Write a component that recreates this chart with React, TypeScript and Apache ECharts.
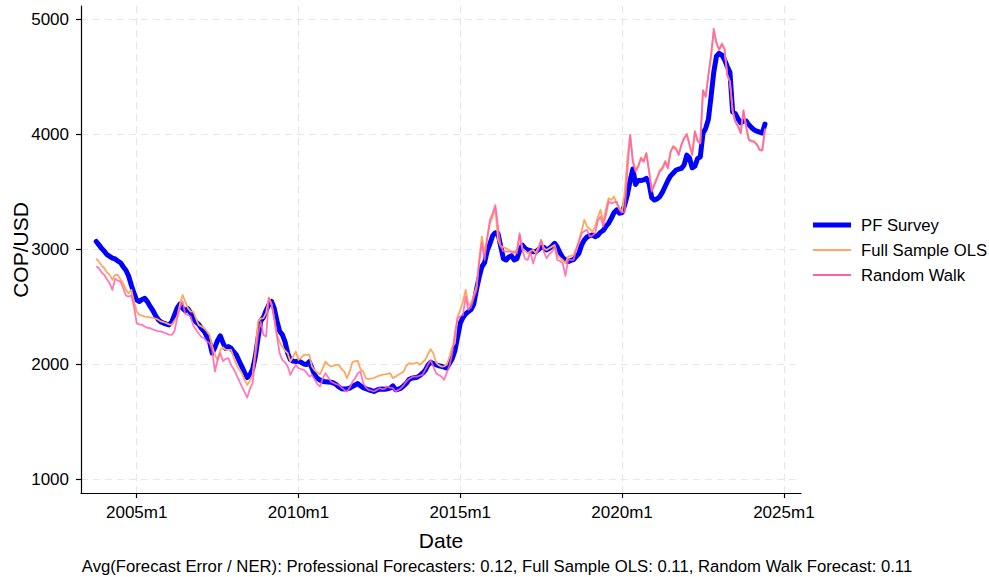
import React, { useEffect, useRef } from "react";
import * as echarts from "echarts";

// Months counted from 2005m1 (= 0). First observation: 2003m10 (= -15).
const START_MONTH = -15;

const pfSurvey = [
  3070, 3040, 3010, 2985, 2955, 2940, 2925, 2918, 2900, 2885, 2850, 2820,
  2770, 2692, 2620, 2560, 2548, 2565, 2575, 2545, 2505, 2470, 2425, 2390,
  2370, 2360, 2352, 2345, 2370, 2430, 2490, 2525, 2490, 2467, 2485, 2450,
  2400, 2370, 2350, 2315, 2290, 2245, 2200, 2100, 2150, 2210, 2250, 2190,
  2140, 2156, 2142, 2110, 2084, 2030, 1983, 1930, 1887, 1910, 1960, 2070,
  2230, 2380, 2410, 2470, 2520, 2548, 2490, 2380, 2290, 2260, 2200, 2100,
  2041, 2030, 2026, 2030, 2020, 2005, 2000, 2026, 1968, 1910, 1881, 1865,
  1855, 1850, 1848, 1847, 1840, 1825, 1805, 1790, 1788, 1789, 1795, 1810,
  1823, 1835, 1815, 1800, 1790, 1781, 1775, 1766, 1778, 1786, 1787, 1786,
  1790, 1795, 1815, 1781, 1785, 1795, 1815, 1838, 1870, 1882, 1886, 1890,
  1905, 1925, 1950, 1995, 2020, 2010, 2000, 1990, 1985, 1978, 1970, 2010,
  2050, 2120, 2240, 2360, 2410, 2440, 2460, 2478, 2525, 2650, 2760, 2850,
  2885, 2990, 3050, 3120, 3145, 3140, 3025, 2920, 2909, 2935, 2945, 2909,
  2920, 2990, 3039, 3010, 2996, 2990, 2981, 2981, 3000, 3020, 3020, 2996,
  3010, 3030, 3054, 3020, 2970, 2930, 2909, 2895, 2905, 2912, 2940, 2967,
  3039, 3083, 3108, 3120, 3126, 3112, 3122, 3150, 3165, 3200, 3228, 3271,
  3320, 3344, 3315, 3320, 3390, 3480, 3600, 3700, 3565, 3600, 3600, 3605,
  3618, 3575, 3450, 3430, 3440, 3460, 3500, 3550, 3600, 3640, 3665, 3690,
  3698, 3705, 3735, 3820, 3795, 3710, 3725, 3790, 3805, 4010, 4053, 4130,
  4330, 4540, 4680, 4705, 4690, 4650, 4590, 4540, 4195, 4180, 4135, 4100,
  4117, 4117, 4085, 4060, 4039, 4028, 4020, 4012, 4090,
];

const fullSampleOLS = [
  2920, 2894, 2860, 2837, 2800, 2779, 2736, 2779, 2779, 2740, 2706, 2649,
  2620, 2649, 2548, 2461, 2432, 2425, 2417, 2415, 2410, 2405, 2400, 2390,
  2375, 2368, 2360, 2350, 2345, 2380, 2417, 2520, 2605, 2548, 2490, 2461,
  2461, 2400, 2345, 2330, 2316, 2290, 2258, 2160, 2084, 2041, 2128, 2150,
  2127, 2127, 2127, 2060, 1997, 1960, 1925, 1870, 1823, 1860, 1910, 2113,
  2374, 2400, 2403, 2450, 2583, 2519, 2400, 2258, 2200, 2156, 2120, 2099,
  2026, 2070, 2113, 2041, 2060, 2084, 2084, 2084, 1983, 1950, 1930, 1915,
  1970, 2026, 2000, 1983, 1990, 1997, 1997, 1960, 1939, 1881, 1940, 2020,
  2030, 2032, 1960, 1940, 1880, 1873, 1880, 1882, 1896, 1905, 1911, 1915,
  1920, 1925, 1882, 1895, 1911, 1925, 1940, 1990, 2012, 2006, 2010, 2018,
  1998, 2020, 2041, 2090, 2133, 2099, 2020, 1995, 1983, 1985, 1998, 2070,
  2150, 2186, 2417, 2475, 2550, 2649, 2519, 2533, 2600, 2678, 2909, 3112,
  2967, 3100, 3228, 3286, 3359, 3083, 3030, 3020, 3010, 2995, 2981, 2967,
  3000, 3126, 3010, 2990, 2967, 2985, 2996, 2967, 3020, 3083, 3010, 2996,
  3010, 3025, 3039, 2952, 2930, 2909, 2880, 2938, 2945, 2952, 3010, 3083,
  3160, 3257, 3199, 3180, 3155, 3199, 3280, 3344, 3242, 3350, 3445, 3430,
  3460, 3400, 3358, 3329, 3500, 3800, 3995, 3770, 3690, 3730, 3800, 3770,
  3840, 3690, 3520, 3575, 3630, 3690, 3715, 3770, 3720, 3855, 3900, 3880,
  3830, 3915, 3970, 4005, 3915, 3830, 4030, 3950, 3930, 4380, 4330, 4510,
  4680, 4890, 4790, 4740, 4780, 4735, 4520, 4460, 4200, 4110, 4075, 4015,
  4200, 4070, 3960, 3945, 3940, 3915, 3870, 3865, 4045,
];

const randomWalk = [
  2855, 2837, 2800, 2779, 2740, 2706, 2649, 2745, 2730, 2721, 2663, 2600,
  2590, 2600, 2504, 2360, 2350, 2345, 2330, 2320, 2316, 2305, 2298, 2290,
  2287, 2280, 2270, 2260, 2258, 2290, 2400, 2490, 2548, 2440, 2432, 2417,
  2340, 2302, 2270, 2240, 2229, 2200, 2190, 2128, 1939, 2041, 2099, 2030,
  2050, 2055, 1997, 1960, 1910, 1860, 1809, 1760, 1713, 1790, 1838, 2070,
  2258, 2374, 2258, 2243, 2576, 2533, 2403, 2250, 2099, 2041, 2020, 1983,
  1910, 1960, 1997, 1968, 1960, 1954, 1930, 1896, 1910, 1870, 1830, 1809,
  1880, 1925, 1890, 1852, 1840, 1830, 1823, 1800, 1780, 1765, 1800, 1850,
  1881, 1925, 1940, 1838, 1800, 1781, 1775, 1766, 1780, 1795, 1786, 1790,
  1809, 1800, 1795, 1766, 1780, 1795, 1820, 1853, 1875, 1890, 1895, 1896,
  1905, 1911, 1954, 2000, 2041, 1983, 1925, 1910, 1896, 1867, 1930, 1990,
  2099, 2273, 2403, 2420, 2432, 2591, 2475, 2500, 2580, 2649, 2881, 3054,
  2909, 3100, 3257, 3315, 3386, 3199, 3025, 2985, 2981, 2981, 2981, 2981,
  2967, 3141, 2996, 2920, 2909, 2981, 2880, 2952, 3000, 3083, 2980, 2924,
  2960, 2981, 3025, 2909, 2900, 2880, 2770, 2909, 2909, 2909, 3000, 3060,
  3141, 3160, 3170, 3112, 3120, 3141, 3250, 3286, 3199, 3300, 3416, 3401,
  3410, 3416, 3344, 3320, 3330, 3691, 3995, 3762, 3676, 3720, 3791, 3762,
  3835, 3676, 3502, 3560, 3618, 3680, 3700, 3762, 3705, 3849, 3893, 3870,
  3820, 3907, 3965, 4000, 3907, 3820, 4023, 3940, 3921, 4384, 4327, 4515,
  4688, 4920, 4800, 4732, 4790, 4746, 4515, 4457, 4211, 4110, 4070, 4009,
  4211, 4066, 3950, 3940, 3935, 3910, 3864, 3860, 4052,
];

const seriesNames = ["PF Survey", "Full Sample OLS", "Random Walk"];
const xTickMonths = [0, 60, 120, 180, 240];
const xTickLabels = ["2005m1", "2010m1", "2015m1", "2020m1", "2025m1"];
const yTicks = [1000, 2000, 3000, 4000, 5000];
const yTickLabels = ["1000", "2000", "3000", "4000", "5000"];
const xTitle = "Date";
const yTitle = "COP/USD";
const note =
  "Avg(Forecast Error / NER): Professional Forecasters: 0.12, Full Sample OLS: 0.11, Random Walk Forecast: 0.11";

const FONT = "'Liberation Sans', Arial, Helvetica, sans-serif";

const BLUE = "#0000ff";
const ORANGE = "#ffa75e";
const PINK = "#ff62ad";

const toPairs = (arr: number[]) => arr.map((v, i) => [START_MONTH + i, v]);

export default function App() {
  const ref = useRef<HTMLDivElement>(null);
  useEffect(() => {
    if (!ref.current) return;
    const chart = echarts.init(ref.current, undefined, { renderer: "svg" });
    const grid = "#e6e6e6";
    const option: any = {
      animation: false,
      backgroundColor: "#ffffff",
      textStyle: { fontFamily: FONT },
      grid: { left: 81, top: 6, width: 720, height: 487 },
      xAxis: {
        type: "value",
        min: -20.65,
        max: 246.35,
        axisLine: { show: true, onZero: false, lineStyle: { color: "#000", width: 1.2 } },
        axisTick: { show: true, length: 5, customValues: xTickMonths, lineStyle: { color: "#000", width: 1.2 } },
        axisLabel: {
          customValues: xTickMonths,
          formatter: (v: number) => xTickLabels[xTickMonths.indexOf(Math.round(v))] ?? "",
          fontSize: 17,
          color: "#000",
          margin: 11,
          fontFamily: FONT,
        },
        splitLine: { show: true, lineStyle: { color: grid, type: [7, 5], width: 1.2 } },
      },
      yAxis: {
        type: "value",
        min: 884,
        max: 5116,
        axisLine: { show: true, onZero: false, lineStyle: { color: "#000", width: 1.2 } },
        axisTick: { show: true, length: 5, customValues: yTicks, lineStyle: { color: "#000", width: 1.2 } },
        axisLabel: {
          customValues: yTicks,
          formatter: (v: number) => yTickLabels[yTicks.indexOf(Math.round(v))] ?? "",
          fontSize: 17,
          color: "#000",
          margin: 12,
          fontFamily: FONT,
        },
        splitLine: { show: true, lineStyle: { color: grid, type: [7, 5], width: 1.2 } },
      },
      legend: {
        orient: "vertical",
        left: 813,
        top: 216.5,
        padding: 0,
        itemWidth: 38,
        itemHeight: 14,
        itemGap: 8,
        data: [
          { name: seriesNames[0], icon: "path://M0,0 L38,0 L38,5 L0,5 Z", itemStyle: { color: BLUE } },
          { name: seriesNames[1], icon: "path://M0,0 L38,0 L38,2 L0,2 Z", itemStyle: { color: ORANGE } },
          { name: seriesNames[2], icon: "path://M0,0 L38,0 L38,2 L0,2 Z", itemStyle: { color: PINK } },
        ],
        textStyle: { fontSize: 16.7, color: "#000", fontFamily: FONT, padding: [0, 0, 0, 5] },
      },
      series: [
        {
          name: seriesNames[0],
          type: "line",
          data: toPairs(pfSurvey),
          showSymbol: false,
          symbol: "none",
          lineStyle: { color: BLUE, width: 5, cap: "round", join: "round" },
          itemStyle: { color: BLUE },
          z: 2,
        },
        {
          name: seriesNames[1],
          type: "line",
          data: toPairs(fullSampleOLS),
          showSymbol: false,
          symbol: "none",
          lineStyle: { color: ORANGE, width: 1.8, join: "round" },
          itemStyle: { color: ORANGE },
          z: 3,
        },
        {
          name: seriesNames[2],
          type: "line",
          data: toPairs(randomWalk),
          showSymbol: false,
          symbol: "none",
          lineStyle: { color: PINK, width: 1.8, join: "round", opacity: 0.85 },
          itemStyle: { color: PINK },
          z: 4,
        },
      ],
      graphic: [
        {
          type: "text",
          x: 20,
          y: 250,
          rotation: Math.PI / 2,
          style: { text: yTitle, font: `21px ${FONT}`, fill: "#000", align: "center", verticalAlign: "middle" },
        },
        {
          type: "text",
          x: 441,
          y: 540,
          style: { text: xTitle, font: `21px ${FONT}`, fill: "#000", align: "center", verticalAlign: "middle" },
        },
        {
          type: "text",
          x: 497,
          y: 566,
          style: { text: note, font: `16.7px ${FONT}`, fill: "#000", align: "center", verticalAlign: "middle" },
        },
      ],
    };
    chart.setOption(option);
    return () => chart.dispose();
  }, []);
  return <div ref={ref} style={{ width: 989, height: 577, position: "absolute", left: 0, top: 0 }} />;
}
